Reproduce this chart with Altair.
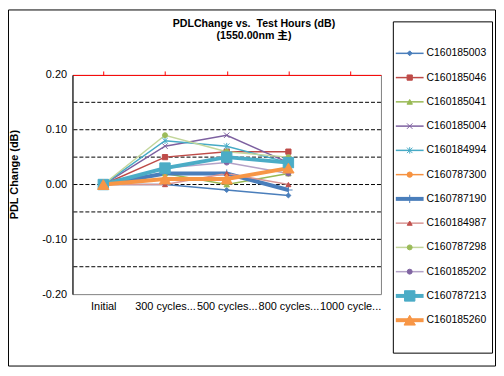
import altair as alt
import pandas as pd

categories = ["Initial", "300 cycles...", "500 cycles...", "800 cycles...", "1000 cycle..."]
series_names = [
    "C160185003", "C160185046", "C160185041", "C160185004", "C160184994", "C160787300",
    "C160787190", "C160184987", "C160787298", "C160185202", "C160787213", "C160185260",
]
values = [
    [0.00, 0.00, -0.01, -0.02],
    [0.00, 0.05, 0.06, 0.06],
    [0.00, 0.02, 0.00, 0.02],
    [0.00, 0.07, 0.09, 0.04],
    [0.00, 0.08, 0.07, 0.04],
    [0.00, 0.01, 0.01, 0.03],
    [0.00, 0.02, 0.02, -0.01],
    [0.00, 0.00, 0.02, 0.00],
    [0.00, 0.09, 0.06, 0.05],
    [0.00, 0.03, 0.04, 0.02],
    [0.00, 0.03, 0.05, 0.04],
    [0.00, 0.01, 0.01, 0.03],
]
y_ticks = [-0.20, -0.15, -0.10, -0.05, 0.00, 0.05, 0.10, 0.15, 0.20]
grid_vals = [-0.15, -0.10, -0.05, 0.00, 0.05, 0.10, 0.15]

line_colors = ["#4A7EBB", "#BE4B48", "#98B954", "#7D60A0", "#46AAC5", "#F69240",
               "#4A7EBB", "#D99694", "#C3D69B", "#B3A2C7", "#4BACC6", "#F79646"]
marker_colors = ["#4A7EBB", "#BE4B48", "#98B954", "#7D60A0", "#46AAC5", "#F69240",
                 "#4A7EBB", "#C0504D", "#9BBB59", "#8064A2", "#4BACC6", "#F79646"]
line_widths = [1.5, 1.5, 1.5, 1.5, 1.5, 1.5, 4, 1.5, 1.5, 1.5, 4, 4]
X_PATH = "M-1,-1L1,1M-1,1L1,-1"
STAR_PATH = "M-1,-1L1,1M-1,1L1,-1M0,-1.2L0,1.2"
PLUS_PATH = "M0,-1L0,1M-1,0L1,0"
shapes = ["diamond", "square", "triangle-up", X_PATH, STAR_PATH, "circle",
          PLUS_PATH, "triangle-up", "circle", "circle", "square", "triangle-up"]
sizes = [25, 28, 30, 30, 30, 28, 70, 25, 25, 25, 110, 130]

FONT = "Liberation Sans, Arial, Noto Sans CJK SC, sans-serif"

rows = []
for name, vals in zip(series_names, values):
    for cat, v in zip(categories, vals):
        rows.append({"series": name, "cat": cat, "v": v})
df = pd.DataFrame(rows)
grid_df = pd.DataFrame({"v": grid_vals})
legend_df = pd.DataFrame({"series": series_names})
one = pd.DataFrame({"a": [0]})

yscale = alt.Scale(domain=[-0.2, 0.2], nice=False, zero=False)
xscale = alt.Scale(domain=categories, paddingInner=0, paddingOuter=0)
color_s = alt.Scale(domain=series_names, range=line_colors)
fill_s = alt.Scale(domain=series_names, range=marker_colors)
shape_s = alt.Scale(domain=series_names, range=shapes)
size_s = alt.Scale(type="ordinal", domain=series_names, range=sizes)
width_s = alt.Scale(type="ordinal", domain=series_names, range=line_widths)

grid = alt.Chart(grid_df).mark_rule(color="black", strokeWidth=1, strokeDash=[4, 2]).encode(
    y=alt.Y("v:Q", scale=yscale, axis=alt.Axis(
        values=y_ticks, labelExpr="replace(format(datum.value, '.2f'), '\u2212', '-')",
        grid=False, ticks=False, domainColor="black", domainWidth=1,
        labelPadding=6, labelFontSize=11, labelFont=FONT, labelColor="black",
        title="PDL Change (dB)", titleFont=FONT, titleFontSize=11, titleFontWeight="bold",
        titleColor="black", titleX=-58, titleY=100, titleAngle=270, titleBaseline="middle")),
)

lines = alt.Chart(df).mark_line().encode(
    x=alt.X("cat:N", scale=xscale, sort=categories, axis=alt.Axis(
        orient="top", labels=False, title=None, domainColor="#FF0000", domainWidth=1,
        tickColor="#FF0000", tickSize=4, tickWidth=1, bandPosition=0, grid=False)),
    y=alt.Y("v:Q", scale=yscale),
    color=alt.Color("series:N", scale=color_s, legend=None),
    strokeWidth=alt.StrokeWidth("series:O", scale=width_s, legend=None),
)

points = alt.Chart(df).mark_point(filled=True, opacity=1, strokeWidth=1).encode(
    x=alt.X("cat:N", scale=xscale, sort=categories, axis=alt.Axis(
        orient="bottom", domain=False, ticks=False, title=None, labelAngle=0,
        labelPadding=7, labelFontSize=11, labelFont=FONT, labelColor="black", grid=False)),
    y=alt.Y("v:Q", scale=yscale),
    shape=alt.Shape("series:N", scale=shape_s, legend=None),
    size=alt.Size("series:O", scale=size_s, legend=None),
    fill=alt.Fill("series:N", scale=fill_s, legend=None),
    stroke=alt.Stroke("series:N", scale=fill_s, legend=None),
)

main = alt.layer(grid, lines, points)

ly = alt.Y("series:N", scale=alt.Scale(type="point", domain=series_names, range=[-34, 259.5]), axis=None)

outer_border = alt.Chart(one).mark_rect(filled=False, stroke="black", strokeWidth=1).encode(
    x=alt.value(-64.5), x2=alt.value(426.5), y=alt.value(-65.5), y2=alt.value(293.5))
legend_box = alt.Chart(one).mark_rect(filled=False, stroke="black", strokeWidth=1).encode(
    x=alt.value(323.5), x2=alt.value(423.5), y=alt.value(-53.5), y2=alt.value(280.5))
leg_lines = alt.Chart(legend_df).mark_rule().encode(
    y=ly, x=alt.value(326), x2=alt.value(354),
    color=alt.Color("series:N", scale=color_s, legend=None),
    strokeWidth=alt.StrokeWidth("series:O", scale=width_s, legend=None),
)
leg_points = alt.Chart(legend_df).mark_point(filled=True, opacity=1, strokeWidth=1).encode(
    y=ly, x=alt.value(340),
    shape=alt.Shape("series:N", scale=shape_s, legend=None),
    size=alt.Size("series:O", scale=size_s, legend=None),
    fill=alt.Fill("series:N", scale=fill_s, legend=None),
    stroke=alt.Stroke("series:N", scale=fill_s, legend=None),
)
leg_text = alt.Chart(legend_df).mark_text(align="left", baseline="middle", fontSize=10.5,
                                           font=FONT, color="black").encode(
    y=ly, x=alt.value(357), text="series:N")

title1 = alt.Chart(one).mark_text(align="center", baseline="alphabetic", fontSize=10.7,
                                  fontWeight="bold", font=FONT, color="black").encode(
    x=alt.value(183), y=alt.value(-48), text=alt.value("PDLChange vs.\u00a0 Test Hours (dB)"))
title2 = alt.Chart(one).mark_text(align="center", baseline="alphabetic", fontSize=10.7,
                                  fontWeight="bold", font=FONT, color="black").encode(
    x=alt.value(183), y=alt.value(-36), text=alt.value("(1550.00nm 主)"))

legend = alt.layer(outer_border, legend_box, leg_lines, leg_points, leg_text, title1, title2)

chart = alt.layer(main, legend).resolve_scale(x="independent", y="independent").properties(
    width=311, height=221,
    autosize=alt.AutoSizeParams(type="none"),
    padding={"left": 65, "top": 66, "right": 116, "bottom": 73},
    background="white",
).configure_view(stroke="#808080", strokeWidth=1)

chart.save("out.html", embed_options={"renderer": "svg", "actions": False})
